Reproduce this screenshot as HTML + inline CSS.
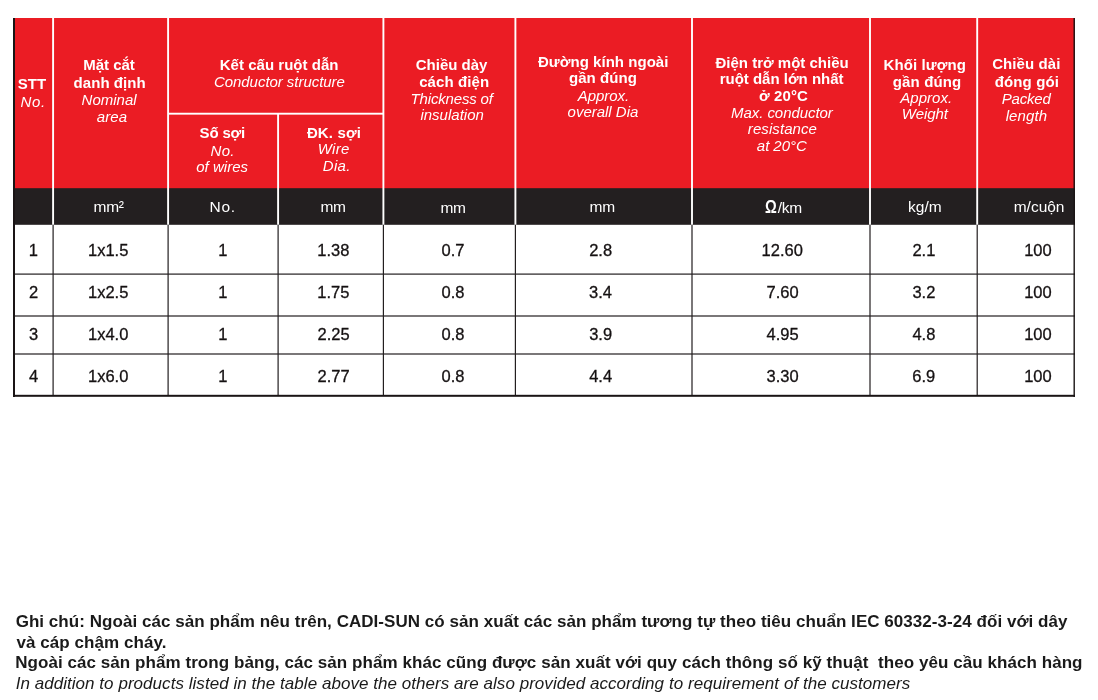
<!DOCTYPE html>
<html lang="vi"><head><meta charset="utf-8"><title>Bảng thông số kỹ thuật</title><style>
html,body{margin:0;padding:0;background:#fff}
body{width:1098px;height:700px;position:relative;overflow:hidden;font-family:"Liberation Sans",sans-serif}
.bx{position:absolute}
.t{position:absolute;white-space:pre;line-height:1;margin:0;padding:0}
.b{font-weight:bold} .i{font-style:italic} .r{font-weight:normal}
</style></head><body>
<svg class="bx" style="left:0;top:0" width="1098" height="700" viewBox="0 0 1098 700">
<rect x="13.0" y="18.0" width="1062.0" height="172.20" fill="#eb1c24"/>
<rect x="13.0" y="188.2" width="1062.0" height="36.60" fill="#231f20"/>
<rect x="52.15" y="18.0" width="1.9" height="206.80" fill="#fff"/>
<rect x="167.15" y="18.0" width="1.9" height="206.80" fill="#fff"/>
<rect x="277.15" y="113.7" width="1.9" height="111.10" fill="#fff"/>
<rect x="382.45" y="18.0" width="1.9" height="206.80" fill="#fff"/>
<rect x="514.45" y="18.0" width="1.9" height="206.80" fill="#fff"/>
<rect x="691.05" y="18.0" width="1.9" height="206.80" fill="#fff"/>
<rect x="869.05" y="18.0" width="1.9" height="206.80" fill="#fff"/>
<rect x="976.25" y="18.0" width="1.9" height="206.80" fill="#fff"/>
<rect x="168.1" y="112.75" width="215.30" height="1.9" fill="#fff"/>
<rect x="52.50" y="224.8" width="1.2" height="171.20" fill="#231f20"/>
<rect x="167.50" y="224.8" width="1.2" height="171.20" fill="#231f20"/>
<rect x="277.50" y="224.8" width="1.2" height="171.20" fill="#231f20"/>
<rect x="382.80" y="224.8" width="1.2" height="171.20" fill="#231f20"/>
<rect x="514.80" y="224.8" width="1.2" height="171.20" fill="#231f20"/>
<rect x="691.40" y="224.8" width="1.2" height="171.20" fill="#231f20"/>
<rect x="869.40" y="224.8" width="1.2" height="171.20" fill="#231f20"/>
<rect x="976.60" y="224.8" width="1.2" height="171.20" fill="#231f20"/>
<rect x="13.0" y="273.50" width="1062.0" height="1.2" fill="#231f20"/>
<rect x="13.0" y="315.40" width="1062.0" height="1.2" fill="#231f20"/>
<rect x="13.0" y="353.40" width="1062.0" height="1.2" fill="#231f20"/>
<rect x="13.0" y="18.0" width="2" height="379.0" fill="#1a1415"/>
<rect x="1073.5" y="18.0" width="1.4" height="379.0" fill="#1a1415"/>
<rect x="13.0" y="394.8" width="1062.0" height="2.0" fill="#1a1415"/>
</svg>
<div role="table" aria-label="Bảng thông số kỹ thuật">
<div role="row" class="hdr">
<div class="t b" style="left:17.70px;top:76.30px;font-size:15px;color:#fff;letter-spacing:0.075px">STT</div>
<div class="t i" style="left:20.60px;top:93.50px;font-size:15px;color:#fff;letter-spacing:0.650px">No.</div>
<div class="t b" style="left:83.30px;top:56.70px;font-size:15px;color:#fff;letter-spacing:-0.033px">Mặt cắt</div>
<div class="t b" style="left:73.60px;top:74.60px;font-size:15px;color:#fff;letter-spacing:0.056px">danh định</div>
<div class="t i" style="left:81.60px;top:92.40px;font-size:15px;color:#fff;letter-spacing:-0.008px">Nominal</div>
<div class="t i" style="left:96.85px;top:109.10px;font-size:15px;color:#fff;letter-spacing:0.083px">area</div>
<div class="t b" style="left:219.70px;top:56.70px;font-size:15px;color:#fff;letter-spacing:0.033px">Kết cấu ruột dẫn</div>
<div class="t i" style="left:213.95px;top:74.10px;font-size:15px;color:#fff;letter-spacing:-0.044px">Conductor structure</div>
<div class="t b" style="left:199.60px;top:124.70px;font-size:15px;color:#fff;letter-spacing:-0.180px">Số sợi</div>
<div class="t i" style="left:210.60px;top:142.70px;font-size:15px;color:#fff;letter-spacing:0.300px">No.</div>
<div class="t i" style="left:196.20px;top:158.70px;font-size:15px;color:#fff;letter-spacing:0.021px">of wires</div>
<div class="t b" style="left:306.90px;top:124.70px;font-size:15px;color:#fff;letter-spacing:0.150px">ĐK. sợi</div>
<div class="t i" style="left:317.65px;top:140.70px;font-size:15px;color:#fff;letter-spacing:0.367px">Wire</div>
<div class="t i" style="left:322.80px;top:157.50px;font-size:15px;color:#fff;letter-spacing:0.283px">Dia.</div>
<div class="t b" style="left:415.75px;top:57.10px;font-size:15px;color:#fff;letter-spacing:-0.006px">Chiều dày</div>
<div class="t b" style="left:419.20px;top:74.10px;font-size:15px;color:#fff;letter-spacing:0.094px">cách điện</div>
<div class="t i" style="left:410.60px;top:90.70px;font-size:15px;color:#fff;letter-spacing:-0.173px">Thickness of</div>
<div class="t i" style="left:420.45px;top:107.20px;font-size:15px;color:#fff">insulation</div>
<div class="t b" style="left:538.00px;top:54.10px;font-size:15px;color:#fff;letter-spacing:0.037px">Đường kính ngoài</div>
<div class="t b" style="left:568.95px;top:70.10px;font-size:15px;color:#fff;letter-spacing:0.064px">gần đúng</div>
<div class="t i" style="left:577.85px;top:87.70px;font-size:15px;color:#fff;letter-spacing:-0.067px">Approx.</div>
<div class="t i" style="left:567.60px;top:104.20px;font-size:15px;color:#fff;letter-spacing:-0.015px">overall Dia</div>
<div class="t b" style="left:715.50px;top:54.50px;font-size:15px;color:#fff">Điện trở một chiều</div>
<div class="t b" style="left:719.70px;top:71.10px;font-size:15px;color:#fff;letter-spacing:-0.009px">ruột dẫn lớn nhất</div>
<div class="t b" style="left:759.00px;top:87.70px;font-size:15px;color:#fff;letter-spacing:0.090px">ở 20°C</div>
<div class="t i" style="left:731.00px;top:104.80px;font-size:15px;color:#fff;letter-spacing:-0.054px">Max. conductor</div>
<div class="t i" style="left:747.85px;top:121.20px;font-size:15px;color:#fff;letter-spacing:0.078px">resistance</div>
<div class="t i" style="left:756.85px;top:137.80px;font-size:15px;color:#fff;letter-spacing:-0.050px">at 20°C</div>
<div class="t b" style="left:883.60px;top:56.70px;font-size:15px;color:#fff;letter-spacing:0.078px">Khối lượng</div>
<div class="t b" style="left:892.75px;top:73.70px;font-size:15px;color:#fff;letter-spacing:0.136px">gần đúng</div>
<div class="t i" style="left:900.25px;top:90.10px;font-size:15px;color:#fff;letter-spacing:0.033px">Approx.</div>
<div class="t i" style="left:901.85px;top:106.20px;font-size:15px;color:#fff;letter-spacing:-0.080px">Weight</div>
<div class="t b" style="left:992.15px;top:56.10px;font-size:15px;color:#fff;letter-spacing:0.094px">Chiều dài</div>
<div class="t b" style="left:994.80px;top:73.50px;font-size:15px;color:#fff;letter-spacing:0.107px">đóng gói</div>
<div class="t i" style="left:1001.80px;top:91.10px;font-size:15px;color:#fff;letter-spacing:-0.210px">Packed</div>
<div class="t i" style="left:1005.65px;top:108.20px;font-size:15px;color:#fff;letter-spacing:0.100px">length</div>
</div>
<div role="row" class="units">
<div class="t r" style="left:93.50px;top:199.10px;font-size:15.5px;color:#fff;letter-spacing:-0.275px">mm²</div>
<div class="t r" style="left:209.45px;top:199.30px;font-size:15.5px;color:#fff;letter-spacing:0.750px">No.</div>
<div class="t r" style="left:320.50px;top:199.30px;font-size:15.5px;color:#fff;letter-spacing:-0.350px">mm</div>
<div class="t r" style="left:440.50px;top:200.30px;font-size:15.5px;color:#fff;letter-spacing:-0.350px">mm</div>
<div class="t r" style="left:589.60px;top:199.30px;font-size:15.5px;color:#fff;letter-spacing:-0.350px">mm</div>
<div class="t b" style="left:764.67px;top:198.60px;font-size:17.5px;color:#fff;transform:scaleX(0.840);transform-origin:0 0">Ω</div>
<div class="t r" style="left:777.70px;top:199.60px;font-size:15.5px;color:#fff;letter-spacing:-0.200px">/km</div>
<div class="t r" style="left:908.10px;top:199.10px;font-size:15.5px;color:#fff;letter-spacing:-0.033px">kg/m</div>
<div class="t r" style="left:1013.70px;top:199.10px;font-size:15.5px;color:#fff;letter-spacing:-0.010px">m/cuộn</div>
</div>
<div role="row" class="row">
<div class="t r" style="left:28.85px;top:241.50px;font-size:16.5px;color:#151112;-webkit-text-stroke:0.3px #151112">1</div>
<div class="t r" style="left:88.00px;top:241.50px;font-size:16.5px;color:#151112;-webkit-text-stroke:0.3px #151112">1x1.5</div>
<div class="t r" style="left:218.35px;top:241.50px;font-size:16.5px;color:#151112;-webkit-text-stroke:0.3px #151112">1</div>
<div class="t r" style="left:317.23px;top:241.50px;font-size:16.5px;color:#151112;-webkit-text-stroke:0.3px #151112">1.38</div>
<div class="t r" style="left:441.62px;top:241.50px;font-size:16.5px;color:#151112;-webkit-text-stroke:0.3px #151112">0.7</div>
<div class="t r" style="left:589.20px;top:241.50px;font-size:16.5px;color:#151112;-webkit-text-stroke:0.3px #151112">2.8</div>
<div class="t r" style="left:761.60px;top:241.50px;font-size:16.5px;color:#151112;-webkit-text-stroke:0.3px #151112">12.60</div>
<div class="t r" style="left:912.42px;top:241.50px;font-size:16.5px;color:#151112;-webkit-text-stroke:0.3px #151112">2.1</div>
<div class="t r" style="left:1024.17px;top:241.50px;font-size:16.5px;color:#151112;-webkit-text-stroke:0.3px #151112">100</div>
</div>
<div role="row" class="row">
<div class="t r" style="left:29.10px;top:284.00px;font-size:16.5px;color:#151112;-webkit-text-stroke:0.3px #151112">2</div>
<div class="t r" style="left:88.00px;top:284.00px;font-size:16.5px;color:#151112;-webkit-text-stroke:0.3px #151112">1x2.5</div>
<div class="t r" style="left:218.35px;top:284.00px;font-size:16.5px;color:#151112;-webkit-text-stroke:0.3px #151112">1</div>
<div class="t r" style="left:317.23px;top:284.00px;font-size:16.5px;color:#151112;-webkit-text-stroke:0.3px #151112">1.75</div>
<div class="t r" style="left:441.50px;top:284.00px;font-size:16.5px;color:#151112;-webkit-text-stroke:0.3px #151112">0.8</div>
<div class="t r" style="left:589.08px;top:284.00px;font-size:16.5px;color:#151112;-webkit-text-stroke:0.3px #151112">3.4</div>
<div class="t r" style="left:766.48px;top:284.00px;font-size:16.5px;color:#151112;-webkit-text-stroke:0.3px #151112">7.60</div>
<div class="t r" style="left:912.42px;top:284.00px;font-size:16.5px;color:#151112;-webkit-text-stroke:0.3px #151112">3.2</div>
<div class="t r" style="left:1024.17px;top:284.00px;font-size:16.5px;color:#151112;-webkit-text-stroke:0.3px #151112">100</div>
</div>
<div role="row" class="row">
<div class="t r" style="left:28.98px;top:326.00px;font-size:16.5px;color:#151112;-webkit-text-stroke:0.3px #151112">3</div>
<div class="t r" style="left:88.00px;top:326.00px;font-size:16.5px;color:#151112;-webkit-text-stroke:0.3px #151112">1x4.0</div>
<div class="t r" style="left:218.35px;top:326.00px;font-size:16.5px;color:#151112;-webkit-text-stroke:0.3px #151112">1</div>
<div class="t r" style="left:317.48px;top:326.00px;font-size:16.5px;color:#151112;-webkit-text-stroke:0.3px #151112">2.25</div>
<div class="t r" style="left:441.50px;top:326.00px;font-size:16.5px;color:#151112;-webkit-text-stroke:0.3px #151112">0.8</div>
<div class="t r" style="left:589.20px;top:326.00px;font-size:16.5px;color:#151112;-webkit-text-stroke:0.3px #151112">3.9</div>
<div class="t r" style="left:766.60px;top:326.00px;font-size:16.5px;color:#151112;-webkit-text-stroke:0.3px #151112">4.95</div>
<div class="t r" style="left:912.42px;top:326.00px;font-size:16.5px;color:#151112;-webkit-text-stroke:0.3px #151112">4.8</div>
<div class="t r" style="left:1024.17px;top:326.00px;font-size:16.5px;color:#151112;-webkit-text-stroke:0.3px #151112">100</div>
</div>
<div role="row" class="row">
<div class="t r" style="left:28.98px;top:368.00px;font-size:16.5px;color:#151112;-webkit-text-stroke:0.3px #151112">4</div>
<div class="t r" style="left:88.00px;top:368.00px;font-size:16.5px;color:#151112;-webkit-text-stroke:0.3px #151112">1x6.0</div>
<div class="t r" style="left:218.35px;top:368.00px;font-size:16.5px;color:#151112;-webkit-text-stroke:0.3px #151112">1</div>
<div class="t r" style="left:317.60px;top:368.00px;font-size:16.5px;color:#151112;-webkit-text-stroke:0.3px #151112">2.77</div>
<div class="t r" style="left:441.50px;top:368.00px;font-size:16.5px;color:#151112;-webkit-text-stroke:0.3px #151112">0.8</div>
<div class="t r" style="left:589.20px;top:368.00px;font-size:16.5px;color:#151112;-webkit-text-stroke:0.3px #151112">4.4</div>
<div class="t r" style="left:766.48px;top:368.00px;font-size:16.5px;color:#151112;-webkit-text-stroke:0.3px #151112">3.30</div>
<div class="t r" style="left:912.30px;top:368.00px;font-size:16.5px;color:#151112;-webkit-text-stroke:0.3px #151112">6.9</div>
<div class="t r" style="left:1024.17px;top:368.00px;font-size:16.5px;color:#151112;-webkit-text-stroke:0.3px #151112">100</div>
</div>
</div>
<div class="notes">
<div class="t b" style="left:15.65px;top:613.10px;font-size:17px;color:#1a1a1a;letter-spacing:0.045px">Ghi chú: Ngoài các sản phẩm nêu trên, CADI-SUN có sản xuất các sản phẩm tương tự theo tiêu chuẩn IEC 60332-3-24 đối với dây</div>
<div class="t b" style="left:16.40px;top:633.70px;font-size:17px;color:#1a1a1a;letter-spacing:0.072px">và cáp chậm cháy.</div>
<div class="t b" style="left:15.15px;top:654.10px;font-size:17px;color:#1a1a1a;letter-spacing:0.064px">Ngoài các sản phẩm trong bảng, các sản phẩm khác cũng được sản xuất với quy cách thông số kỹ thuật  theo yêu cầu khách hàng</div>
<div class="t i" style="left:15.65px;top:674.80px;font-size:17px;color:#1a1a1a;letter-spacing:0.045px">In addition to products listed in the table above the others are also provided according to requirement of the customers</div>
</div>
</body></html>
